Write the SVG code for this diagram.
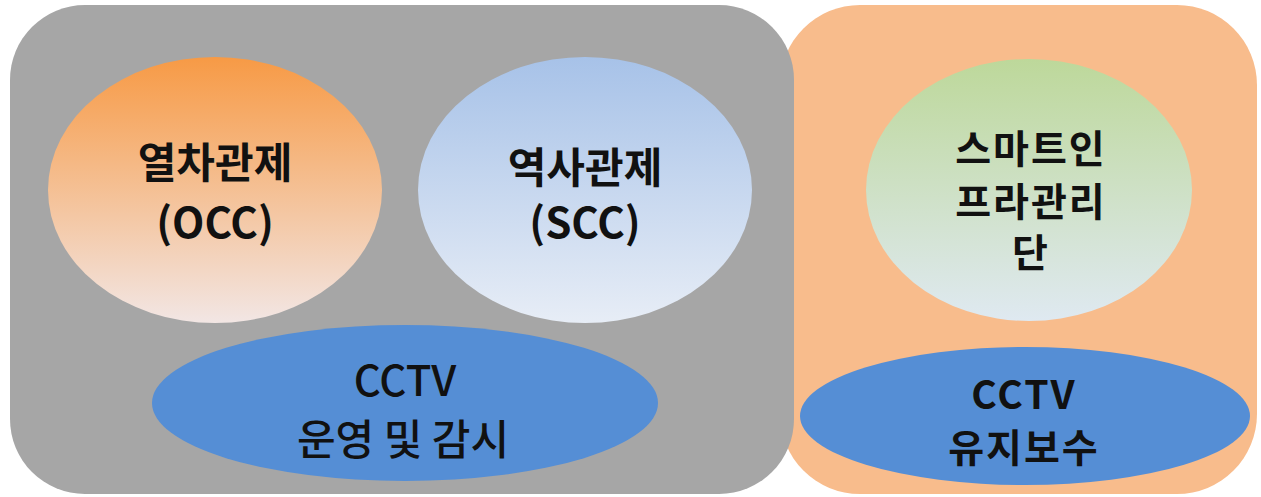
<svg xmlns="http://www.w3.org/2000/svg" width="1261" height="497" viewBox="0 0 1261 497">
<defs>
<linearGradient id="gOrange" x1="0" y1="0" x2="0" y2="1">
<stop offset="0" stop-color="#f79a45"/>
<stop offset="1" stop-color="#f2e6e4"/>
</linearGradient>
<linearGradient id="gBlue" x1="0" y1="0" x2="0" y2="1">
<stop offset="0" stop-color="#a7c2e8"/>
<stop offset="1" stop-color="#e7edf6"/>
</linearGradient>
<linearGradient id="gGreen" x1="0" y1="0" x2="0" y2="1">
<stop offset="0" stop-color="#bdd89a"/>
<stop offset="1" stop-color="#dfe9f1"/>
</linearGradient>
<style>
.t{font-family:"Noto Sans CJK KR","Noto Sans",sans-serif;fill:#111;text-anchor:middle}
.b{font-weight:bold;font-size:42px}
.s{font-weight:bold;font-size:39px;letter-spacing:2px}
.m{font-weight:500;font-size:42px}
</style>
</defs>
<rect width="1261" height="497" fill="#ffffff"/>
<g id="panel-right">
<rect x="780" y="5" width="477" height="489" rx="80" fill="#f8bc8c"/>
</g>
<g id="panel-left">
<rect x="10" y="5" width="784" height="489" rx="75" fill="#a6a6a6"/>
</g>
<g id="occ">
<ellipse cx="215" cy="190" rx="167" ry="133" fill="url(#gOrange)"/>
<text class="t b" x="215" y="178">열차관제</text>
<text class="t b" x="215" y="238">(OCC)</text>
</g>
<g id="scc">
<ellipse cx="585" cy="190" rx="167" ry="133" fill="url(#gBlue)"/>
<text class="t b" x="585" y="183">역사관제</text>
<text class="t b" x="585" y="238">(SCC)</text>
</g>
<g id="smart">
<ellipse cx="1029" cy="190" rx="163" ry="131" fill="url(#gGreen)"/>
<text class="t s" x="1031" y="163">스마트인</text>
<text class="t s" x="1031" y="216">프라관리</text>
<text class="t s" x="1031" y="267">단</text>
</g>
<g id="cctv-ops">
<ellipse cx="405" cy="403" rx="253" ry="78" fill="#558ed5"/>
<text class="t m" x="405" y="396">CCTV</text>
<text class="t m" x="403" y="455">운영 및 감시</text>
</g>
<g id="cctv-maint">
<ellipse cx="1025" cy="416" rx="225" ry="69" fill="#558ed5"/>
<text class="t s" x="1024" y="409">CCTV</text>
<text class="t s" x="1024" y="462">유지보수</text>
</g>
<g id="connectors"/>
</svg>
